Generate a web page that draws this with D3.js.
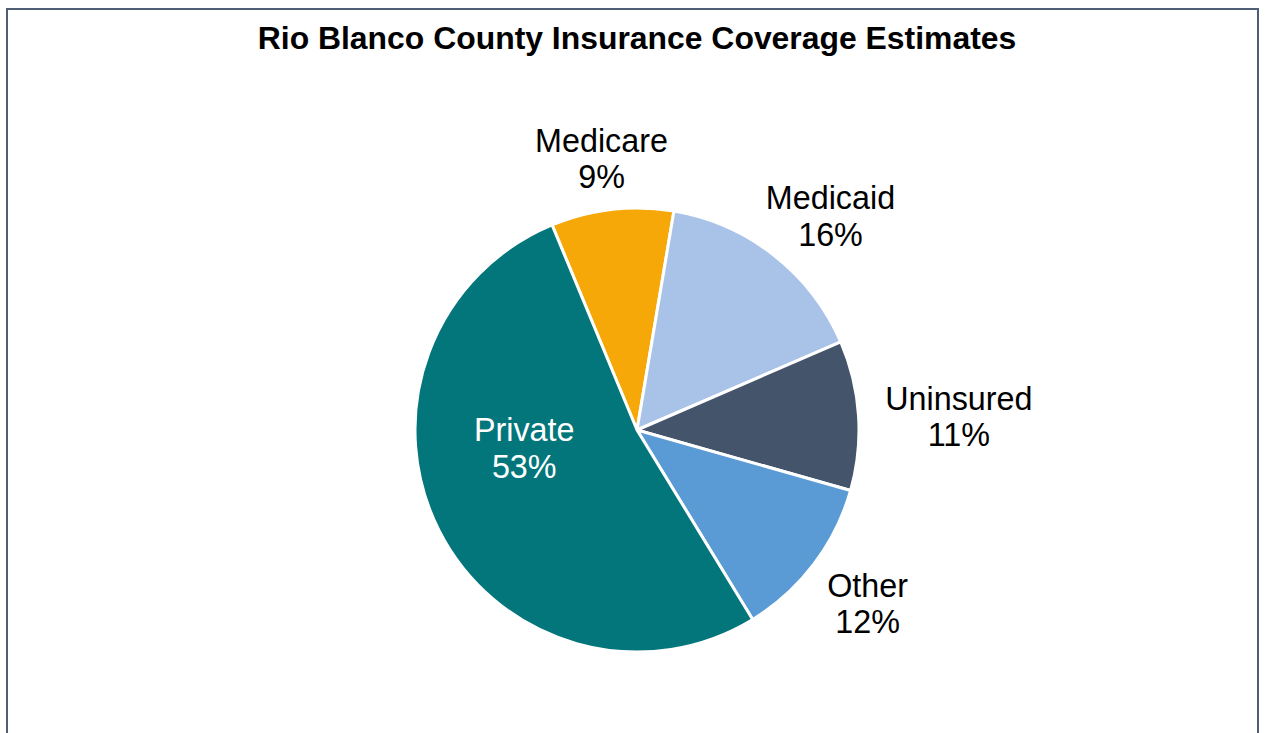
<!DOCTYPE html>
<html>
<head>
    <meta charset="utf-8">
    <title>Rio Blanco County Insurance Coverage Estimates</title>
    <script src="https://d3js.org/d3.v7.min.js"></script>
    <style>
        html, body { margin: 0; padding: 0; background: #fff; }
        svg text { font-family: "Liberation Sans", Arial, sans-serif; }
    </style>
</head>
<body>
    <svg id="chart" width="1265" height="733"></svg>
    <script>
        // data, clockwise from the Medicare slice
        var categories = ["Medicare", "Medicaid", "Uninsured", "Other", "Private"];
        var values = [9, 16, 11, 12, 53];
        var colors = ["#F5A807", "#A9C2E7", "#44546A", "#5B9BD5", "#03767C"];

        var width = 1265, height = 733;
        var cx = 637, cy = 430, radius = 222;
        var startDeg = -22.5;

        var svg = d3.select("#chart");

        // outer frame
        svg.append("rect")
            .attr("x", 7).attr("y", 9)
            .attr("width", 1251).attr("height", 740)
            .attr("fill", "none")
            .attr("stroke", "#4F5E74")
            .attr("stroke-width", 2);

        svg.append("text")
            .attr("x", cx).attr("y", 49)
            .attr("text-anchor", "middle")
            .style("font-size", "31.9px")
            .style("font-weight", "bold")
            .text("Rio Blanco County Insurance Coverage Estimates");

        var data = categories.map(function (c, i) { return { name: c, value: values[i], color: colors[i] }; });

        var start = startDeg * Math.PI / 180;
        var pie = d3.pie()
            .sort(null)
            .value(function (d) { return d.value; })
            .startAngle(start)
            .endAngle(start + 2 * Math.PI);

        var arc = d3.arc().innerRadius(0).outerRadius(radius);

        var g = svg.append("g").attr("transform", "translate(" + cx + "," + cy + ")");
        var arcs = pie(data);

        g.selectAll("path")
            .data(arcs)
            .enter().append("path")
            .attr("d", arc)
            .attr("fill", function (d) { return d.data.color; })
            .attr("stroke", "#fff")
            .attr("stroke-width", 3)
            .attr("stroke-linejoin", "round");

        // labels: outside end for the small slices, inside for Private
        var fontSize = 32.3, lineH = 36.5;
        arcs.forEach(function (d, i) {
            var a = (d.startAngle + d.endAngle) / 2;
            var sx = Math.sin(a), sy = -Math.cos(a);
            var pct = Math.round(d.data.value) + "%";
            var inside = d.data.value > 40;
            var lbl = g.append("text")
                .attr("text-anchor", "middle")
                .style("font-size", fontSize + "px")
                .attr("fill", inside ? "#fff" : "#000");
            lbl.append("tspan").attr("x", 0).attr("y", 0).text(d.data.name);
            lbl.append("tspan").attr("x", 0).attr("y", lineH).text(pct);
            var bb = lbl.node().getBBox();
            var px, py;
            if (inside) {
                px = sx * radius * 0.57;
                py = sy * radius * 0.18;
            } else {
                var r0 = radius + 12, pad = 15;
                var hw = bb.width / 2, hh = 29.5;
                px = sx * r0 + sx * (hw + pad);
                py = sy * r0 + sy * (hh + pad) + 5;
            }
            // center of the two-line glyph block: cap top ~ -0.72em, bottom at lineH
            var blockMid = (-0.72 * fontSize + lineH) / 2;
            lbl.attr("transform", "translate(" + px + "," + (py - blockMid) + ")");
        });
    </script>
</body>
</html>
